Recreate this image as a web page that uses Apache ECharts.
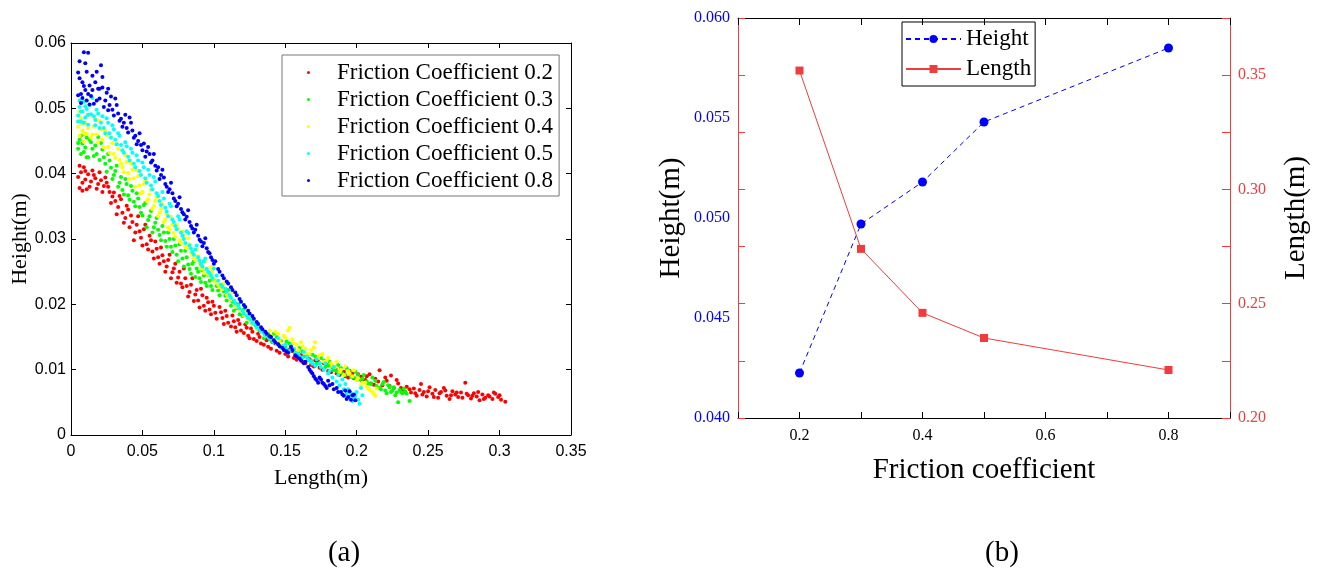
<!DOCTYPE html>
<html>
<head>
<meta charset="utf-8">
<script src="https://cdn.jsdelivr.net/npm/echarts@6/dist/echarts.min.js"></script>
<style>html,body{margin:0;padding:0;background:#fff}#c{width:1317px;height:580px}</style>
</head>
<body>
<div id="c"></div>
<script>
// ---------- Data: panel (a) scatter, [length (m), height (m)] ----------
const seriesNames = ['Friction Coefficient 0.2','Friction Coefficient 0.3','Friction Coefficient 0.4','Friction Coefficient 0.5','Friction Coefficient 0.8'];

const fc02 = [[0.005,0.0395],[0.006,0.0378],[0.007,0.0402],[0.008,0.0386],[0.009,0.0410],[0.010,0.0391],[0.011,0.0376],[0.012,0.0399],[0.014,0.0388],[0.015,0.0405],[0.017,0.0393],[0.019,0.0384],[0.021,0.0390],[0.023,0.0381],[0.025,0.0386],[0.027,0.0372],[0.029,0.0365],[0.031,0.0358],[0.033,0.0349],[0.035,0.0361],[0.036,0.0340],[0.038,0.0332],[0.040,0.0345],[0.041,0.0318],[0.043,0.0326],[0.045,0.0310],[0.047,0.0335],[0.049,0.0302],[0.051,0.0315],[0.053,0.0292],[0.055,0.0305],[0.057,0.0281],[0.059,0.0296],[0.061,0.0272],[0.063,0.0287],[0.065,0.0266],[0.067,0.0258],[0.069,0.0276],[0.071,0.0249],[0.073,0.0262],[0.075,0.0241],[0.077,0.0232],[0.079,0.0255],[0.081,0.0228],[0.083,0.0219],[0.085,0.0240],[0.087,0.0215],[0.089,0.0206],[0.091,0.0224],[0.093,0.0198],[0.095,0.0210],[0.097,0.0192],[0.099,0.0204],[0.101,0.0187],[0.104,0.0196],[0.106,0.0179],[0.108,0.0190],[0.110,0.0172],[0.113,0.0183],[0.115,0.0165],[0.117,0.0176],[0.119,0.0160],[0.122,0.0169],[0.124,0.0152],[0.126,0.0163],[0.128,0.0147],[0.131,0.0155],[0.133,0.0140],[0.136,0.0149],[0.138,0.0135],[0.141,0.0143],[0.144,0.0129],[0.147,0.0137],[0.150,0.0124],[0.153,0.0131],[0.156,0.0118],[0.159,0.0125],[0.162,0.0112],[0.165,0.0120],[0.168,0.0107],[0.171,0.0114],[0.174,0.0103],[0.177,0.0110],[0.180,0.0098],[0.183,0.0106],[0.186,0.0094],[0.189,0.0101],[0.192,0.0090],[0.195,0.0098],[0.198,0.0087],[0.201,0.0093],[0.204,0.0082],[0.207,0.0090],[0.210,0.0079],[0.213,0.0086],[0.216,0.0099],[0.218,0.0076],[0.221,0.0083],[0.224,0.0091],[0.226,0.0072],[0.229,0.0079],[0.232,0.0068],[0.235,0.0074],[0.238,0.0065],[0.240,0.0071],[0.242,0.0060],[0.245,0.0078],[0.247,0.0066],[0.249,0.0059],[0.251,0.0073],[0.253,0.0063],[0.255,0.0069],[0.257,0.0057],[0.259,0.0066],[0.261,0.0072],[0.263,0.0060],[0.265,0.0055],[0.267,0.0067],[0.269,0.0062],[0.271,0.0058],[0.273,0.0065],[0.276,0.0080],[0.278,0.0061],[0.280,0.0056],[0.282,0.0064],[0.284,0.0059],[0.286,0.0053],[0.288,0.0062],[0.290,0.0057],[0.292,0.0061],[0.295,0.0055],[0.297,0.0063],[0.299,0.0058],[0.301,0.0054],[0.304,0.0051]];
const fc02b = [[0.006,0.0412],[0.008,0.0374],[0.010,0.0404],[0.013,0.0380],[0.016,0.0398],[0.018,0.0377],[0.020,0.0402],[0.022,0.0372],[0.024,0.0394],[0.026,0.0380],[0.028,0.0355],[0.030,0.0371],[0.032,0.0338],[0.034,0.0366],[0.037,0.0325],[0.039,0.0351],[0.042,0.0336],[0.044,0.0298],[0.046,0.0322],[0.048,0.0312],[0.050,0.0290],[0.052,0.0322],[0.054,0.0284],[0.056,0.0298],[0.058,0.0270],[0.060,0.0285],[0.062,0.0262],[0.064,0.0275],[0.066,0.0250],[0.068,0.0268],[0.070,0.0240],[0.072,0.0255],[0.074,0.0233],[0.076,0.0250],[0.078,0.0226],[0.080,0.0240],[0.082,0.0212],[0.084,0.0230],[0.086,0.0205],[0.088,0.0222],[0.090,0.0195],[0.092,0.0214],[0.094,0.0190],[0.096,0.0203],[0.098,0.0185],[0.100,0.0198],[0.102,0.0178],[0.105,0.0188],[0.107,0.0170],[0.109,0.0182],[0.112,0.0166],[0.114,0.0174],[0.116,0.0158],[0.118,0.0170],[0.121,0.0156],[0.123,0.0164],[0.125,0.0148],[0.127,0.0158],[0.130,0.0144],[0.132,0.0150],[0.135,0.0138],[0.137,0.0145],[0.140,0.0132],[0.143,0.0140],[0.146,0.0126],[0.149,0.0134],[0.152,0.0120],[0.155,0.0128],[0.158,0.0115],[0.161,0.0122],[0.164,0.0110],[0.167,0.0116],[0.170,0.0105],[0.173,0.0112],[0.176,0.0100],[0.179,0.0107],[0.182,0.0096],[0.185,0.0102],[0.188,0.0092],[0.191,0.0097],[0.194,0.0088],[0.197,0.0094],[0.200,0.0085],[0.203,0.0089],[0.206,0.0084],[0.209,0.0093],[0.212,0.0077],[0.215,0.0082],[0.220,0.0088],[0.223,0.0075],[0.228,0.0084],[0.231,0.0072],[0.234,0.0066],[0.237,0.0070],[0.241,0.0064],[0.244,0.0069],[0.246,0.0062],[0.250,0.0067],[0.254,0.0058],[0.258,0.0064],[0.262,0.0068],[0.266,0.0061],[0.270,0.0065],[0.274,0.0057],[0.277,0.0063],[0.281,0.0060],[0.285,0.0066],[0.289,0.0055],[0.293,0.0059],[0.296,0.0065],[0.300,0.0061]];

const fc03 = [[0.005,0.0438],[0.006,0.0452],[0.007,0.0430],[0.008,0.0446],[0.009,0.0461],[0.010,0.0440],[0.011,0.0455],[0.012,0.0425],[0.014,0.0448],[0.016,0.0427],[0.017,0.0443],[0.019,0.0456],[0.020,0.0421],[0.022,0.0437],[0.024,0.0415],[0.026,0.0430],[0.028,0.0409],[0.030,0.0398],[0.032,0.0412],[0.034,0.0386],[0.036,0.0375],[0.038,0.0392],[0.040,0.0367],[0.042,0.0381],[0.044,0.0357],[0.046,0.0370],[0.048,0.0349],[0.050,0.0336],[0.052,0.0355],[0.054,0.0329],[0.056,0.0343],[0.058,0.0318],[0.060,0.0332],[0.062,0.0306],[0.064,0.0320],[0.066,0.0297],[0.068,0.0310],[0.070,0.0288],[0.072,0.0300],[0.074,0.0276],[0.076,0.0292],[0.078,0.0270],[0.080,0.0282],[0.082,0.0261],[0.084,0.0247],[0.086,0.0266],[0.088,0.0255],[0.090,0.0240],[0.092,0.0252],[0.094,0.0233],[0.096,0.0245],[0.098,0.0228],[0.100,0.0238],[0.103,0.0221],[0.105,0.0230],[0.108,0.0213],[0.110,0.0222],[0.113,0.0204],[0.116,0.0194],[0.118,0.0185],[0.121,0.0192],[0.124,0.0178],[0.127,0.0170],[0.130,0.0163],[0.133,0.0158],[0.136,0.0152],[0.139,0.0147],[0.142,0.0155],[0.145,0.0140],[0.148,0.0136],[0.151,0.0143],[0.154,0.0130],[0.157,0.0125],[0.160,0.0133],[0.163,0.0120],[0.166,0.0115],[0.169,0.0123],[0.172,0.0109],[0.175,0.0118],[0.178,0.0104],[0.181,0.0112],[0.184,0.0099],[0.187,0.0107],[0.190,0.0094],[0.193,0.0102],[0.196,0.0089],[0.199,0.0097],[0.202,0.0085],[0.205,0.0092],[0.208,0.0079],[0.211,0.0088],[0.214,0.0075],[0.217,0.0070],[0.219,0.0081],[0.221,0.0064],[0.223,0.0073],[0.225,0.0068],[0.227,0.0061],[0.229,0.0050],[0.231,0.0066],[0.233,0.0071],[0.235,0.0063],[0.237,0.0052]];
const fc03b = [[0.005,0.0447],[0.007,0.0458],[0.009,0.0433],[0.011,0.0425],[0.013,0.0452],[0.015,0.0438],[0.018,0.0430],[0.021,0.0447],[0.023,0.0425],[0.025,0.0403],[0.027,0.0420],[0.029,0.0392],[0.031,0.0404],[0.033,0.0380],[0.035,0.0395],[0.037,0.0368],[0.039,0.0384],[0.041,0.0360],[0.043,0.0374],[0.045,0.0350],[0.047,0.0362],[0.049,0.0340],[0.051,0.0352],[0.053,0.0318],[0.055,0.0335],[0.057,0.0310],[0.059,0.0325],[0.061,0.0314],[0.063,0.0298],[0.065,0.0310],[0.067,0.0288],[0.069,0.0300],[0.071,0.0280],[0.073,0.0290],[0.075,0.0266],[0.077,0.0282],[0.079,0.0258],[0.081,0.0272],[0.083,0.0254],[0.085,0.0262],[0.087,0.0242],[0.089,0.0250],[0.091,0.0234],[0.093,0.0244],[0.095,0.0228],[0.097,0.0236],[0.099,0.0222],[0.102,0.0228],[0.104,0.0214],[0.107,0.0220],[0.109,0.0206],[0.112,0.0198],[0.114,0.0190],[0.117,0.0200],[0.120,0.0182],[0.123,0.0172],[0.126,0.0180],[0.129,0.0168],[0.132,0.0160],[0.135,0.0148],[0.138,0.0155],[0.141,0.0142],[0.144,0.0150],[0.147,0.0144],[0.150,0.0135],[0.153,0.0140],[0.156,0.0131],[0.159,0.0126],[0.162,0.0128],[0.165,0.0122],[0.168,0.0114],[0.171,0.0120],[0.174,0.0110],[0.177,0.0114],[0.180,0.0106],[0.183,0.0103],[0.186,0.0098],[0.189,0.0102],[0.192,0.0092],[0.195,0.0097],[0.198,0.0088],[0.201,0.0092],[0.204,0.0086],[0.207,0.0082],[0.210,0.0078],[0.213,0.0083],[0.216,0.0072],[0.218,0.0078],[0.220,0.0068],[0.222,0.0076],[0.224,0.0066],[0.226,0.0073],[0.228,0.0065],[0.230,0.0069],[0.232,0.0064],[0.234,0.0067]];

const fc04 = [[0.005,0.0472],[0.006,0.0458],[0.007,0.0485],[0.008,0.0466],[0.009,0.0449],[0.010,0.0478],[0.011,0.0461],[0.013,0.0490],[0.014,0.0455],[0.016,0.0472],[0.018,0.0460],[0.020,0.0481],[0.022,0.0452],[0.024,0.0466],[0.026,0.0441],[0.028,0.0456],[0.030,0.0430],[0.032,0.0445],[0.034,0.0421],[0.036,0.0410],[0.038,0.0428],[0.040,0.0401],[0.042,0.0416],[0.044,0.0393],[0.046,0.0405],[0.048,0.0382],[0.050,0.0372],[0.052,0.0390],[0.054,0.0361],[0.056,0.0375],[0.058,0.0350],[0.060,0.0364],[0.062,0.0340],[0.064,0.0353],[0.066,0.0330],[0.068,0.0318],[0.070,0.0334],[0.072,0.0309],[0.074,0.0322],[0.076,0.0298],[0.078,0.0311],[0.080,0.0288],[0.082,0.0301],[0.084,0.0279],[0.086,0.0270],[0.088,0.0284],[0.090,0.0262],[0.092,0.0254],[0.094,0.0266],[0.096,0.0246],[0.098,0.0257],[0.100,0.0239],[0.103,0.0230],[0.106,0.0223],[0.109,0.0215],[0.112,0.0207],[0.115,0.0199],[0.118,0.0192],[0.121,0.0183],[0.124,0.0177],[0.127,0.0170],[0.130,0.0163],[0.133,0.0158],[0.136,0.0152],[0.139,0.0160],[0.142,0.0146],[0.145,0.0155],[0.147,0.0140],[0.150,0.0149],[0.153,0.0164],[0.156,0.0140],[0.159,0.0130],[0.162,0.0136],[0.165,0.0124],[0.168,0.0130],[0.171,0.0142],[0.174,0.0122],[0.177,0.0112],[0.180,0.0118],[0.183,0.0106],[0.186,0.0112],[0.189,0.0100],[0.192,0.0105],[0.195,0.0094],[0.198,0.0099],[0.201,0.0087],[0.204,0.0080],[0.207,0.0074],[0.209,0.0069],[0.212,0.0063],[0.214,0.0071]];
const fc04b = [[0.005,0.0480],[0.006,0.0495],[0.008,0.0476],[0.009,0.0462],[0.011,0.0488],[0.012,0.0470],[0.015,0.0460],[0.017,0.0485],[0.019,0.0448],[0.021,0.0468],[0.023,0.0440],[0.025,0.0459],[0.027,0.0432],[0.029,0.0447],[0.031,0.0424],[0.033,0.0438],[0.035,0.0415],[0.037,0.0402],[0.039,0.0418],[0.041,0.0392],[0.043,0.0406],[0.045,0.0380],[0.047,0.0396],[0.049,0.0370],[0.051,0.0384],[0.053,0.0358],[0.055,0.0368],[0.057,0.0346],[0.059,0.0358],[0.061,0.0335],[0.063,0.0346],[0.065,0.0326],[0.067,0.0338],[0.069,0.0314],[0.071,0.0322],[0.073,0.0304],[0.075,0.0316],[0.077,0.0294],[0.079,0.0305],[0.081,0.0286],[0.083,0.0292],[0.085,0.0276],[0.087,0.0268],[0.089,0.0274],[0.091,0.0258],[0.093,0.0248],[0.095,0.0255],[0.097,0.0242],[0.099,0.0250],[0.101,0.0234],[0.104,0.0226],[0.107,0.0232],[0.110,0.0212],[0.113,0.0218],[0.116,0.0196],[0.119,0.0204],[0.122,0.0188],[0.125,0.0182],[0.128,0.0175],[0.131,0.0168],[0.134,0.0162],[0.137,0.0156],[0.140,0.0152],[0.143,0.0158],[0.146,0.0145],[0.149,0.0152],[0.152,0.0160],[0.155,0.0146],[0.158,0.0138],[0.161,0.0142],[0.164,0.0132],[0.167,0.0124],[0.170,0.0134],[0.173,0.0118],[0.176,0.0124],[0.179,0.0114],[0.182,0.0110],[0.185,0.0104],[0.188,0.0096],[0.191,0.0092],[0.194,0.0098],[0.197,0.0090],[0.200,0.0084],[0.203,0.0076],[0.206,0.0080],[0.208,0.0071],[0.211,0.0066],[0.213,0.0060]];

const fc05 = [[0.005,0.0489],[0.006,0.0502],[0.007,0.0480],[0.008,0.0495],[0.009,0.0510],[0.010,0.0486],[0.011,0.0499],[0.012,0.0475],[0.014,0.0491],[0.015,0.0516],[0.017,0.0482],[0.018,0.0498],[0.020,0.0470],[0.022,0.0488],[0.024,0.0462],[0.026,0.0478],[0.028,0.0455],[0.030,0.0468],[0.032,0.0445],[0.034,0.0458],[0.036,0.0436],[0.038,0.0448],[0.040,0.0426],[0.042,0.0438],[0.044,0.0415],[0.046,0.0428],[0.048,0.0404],[0.050,0.0417],[0.052,0.0393],[0.054,0.0406],[0.056,0.0382],[0.058,0.0395],[0.060,0.0370],[0.062,0.0358],[0.064,0.0372],[0.066,0.0348],[0.068,0.0335],[0.070,0.0350],[0.072,0.0326],[0.074,0.0315],[0.076,0.0330],[0.078,0.0305],[0.080,0.0294],[0.082,0.0309],[0.084,0.0285],[0.086,0.0276],[0.088,0.0290],[0.090,0.0267],[0.092,0.0258],[0.094,0.0270],[0.096,0.0250],[0.098,0.0244],[0.100,0.0255],[0.103,0.0236],[0.106,0.0227],[0.109,0.0219],[0.112,0.0210],[0.115,0.0202],[0.118,0.0194],[0.121,0.0186],[0.124,0.0179],[0.127,0.0172],[0.130,0.0165],[0.133,0.0159],[0.136,0.0153],[0.139,0.0148],[0.142,0.0142],[0.145,0.0148],[0.148,0.0136],[0.151,0.0131],[0.154,0.0137],[0.157,0.0125],[0.160,0.0120],[0.163,0.0127],[0.166,0.0115],[0.169,0.0109],[0.172,0.0116],[0.175,0.0104],[0.178,0.0110],[0.181,0.0098],[0.184,0.0104],[0.187,0.0092],[0.190,0.0085],[0.192,0.0078],[0.194,0.0070],[0.196,0.0064],[0.198,0.0058],[0.200,0.0066],[0.202,0.0048],[0.204,0.0061],[0.203,0.0072]];
const fc05b = [[0.005,0.0480],[0.006,0.0512],[0.007,0.0495],[0.009,0.0478],[0.010,0.0503],[0.012,0.0490],[0.013,0.0505],[0.016,0.0488],[0.017,0.0474],[0.019,0.0492],[0.021,0.0478],[0.023,0.0470],[0.025,0.0485],[0.027,0.0462],[0.029,0.0474],[0.031,0.0452],[0.033,0.0462],[0.035,0.0444],[0.037,0.0432],[0.039,0.0442],[0.041,0.0420],[0.043,0.0432],[0.045,0.0410],[0.047,0.0420],[0.049,0.0398],[0.051,0.0410],[0.053,0.0386],[0.055,0.0398],[0.057,0.0376],[0.059,0.0388],[0.061,0.0366],[0.063,0.0352],[0.065,0.0362],[0.067,0.0342],[0.069,0.0354],[0.071,0.0330],[0.073,0.0320],[0.075,0.0335],[0.077,0.0310],[0.079,0.0300],[0.081,0.0312],[0.083,0.0290],[0.085,0.0280],[0.087,0.0284],[0.089,0.0272],[0.091,0.0262],[0.093,0.0266],[0.095,0.0254],[0.097,0.0248],[0.099,0.0240],[0.102,0.0244],[0.105,0.0230],[0.108,0.0224],[0.111,0.0214],[0.114,0.0206],[0.117,0.0198],[0.120,0.0190],[0.123,0.0182],[0.126,0.0176],[0.129,0.0169],[0.132,0.0162],[0.135,0.0156],[0.138,0.0150],[0.141,0.0146],[0.144,0.0140],[0.147,0.0134],[0.150,0.0138],[0.153,0.0128],[0.156,0.0132],[0.159,0.0124],[0.162,0.0118],[0.165,0.0120],[0.168,0.0112],[0.171,0.0106],[0.174,0.0110],[0.177,0.0100],[0.180,0.0094],[0.183,0.0088],[0.186,0.0082],[0.188,0.0076],[0.191,0.0070],[0.193,0.0064],[0.195,0.0058],[0.197,0.0052],[0.199,0.0060],[0.201,0.0054]];

const fc08 = [[0.005,0.0555],[0.006,0.0572],[0.007,0.0522],[0.008,0.0540],[0.009,0.0586],[0.010,0.0528],[0.010,0.0569],[0.011,0.0512],[0.012,0.0585],[0.013,0.0535],[0.014,0.0519],[0.015,0.0550],[0.016,0.0507],[0.018,0.0556],[0.019,0.0530],[0.020,0.0515],[0.021,0.0566],[0.022,0.0532],[0.023,0.0502],[0.025,0.0524],[0.026,0.0497],[0.028,0.0518],[0.030,0.0489],[0.032,0.0505],[0.034,0.0481],[0.036,0.0472],[0.038,0.0490],[0.040,0.0463],[0.042,0.0478],[0.044,0.0455],[0.046,0.0445],[0.048,0.0462],[0.050,0.0436],[0.052,0.0426],[0.054,0.0441],[0.056,0.0417],[0.058,0.0430],[0.060,0.0405],[0.062,0.0392],[0.064,0.0406],[0.066,0.0384],[0.068,0.0372],[0.070,0.0386],[0.072,0.0362],[0.074,0.0350],[0.076,0.0364],[0.078,0.0341],[0.080,0.0330],[0.082,0.0344],[0.084,0.0320],[0.086,0.0310],[0.088,0.0322],[0.090,0.0299],[0.092,0.0289],[0.094,0.0301],[0.096,0.0280],[0.098,0.0272],[0.100,0.0262],[0.103,0.0254],[0.106,0.0244],[0.109,0.0235],[0.112,0.0226],[0.115,0.0218],[0.118,0.0208],[0.121,0.0199],[0.124,0.0190],[0.127,0.0182],[0.130,0.0173],[0.133,0.0165],[0.136,0.0158],[0.139,0.0151],[0.142,0.0145],[0.145,0.0139],[0.148,0.0133],[0.151,0.0128],[0.154,0.0135],[0.157,0.0122],[0.160,0.0117],[0.163,0.0110],[0.166,0.0104],[0.168,0.0097],[0.170,0.0090],[0.172,0.0084],[0.174,0.0088],[0.176,0.0080],[0.178,0.0075],[0.180,0.0083],[0.183,0.0078],[0.186,0.0072],[0.189,0.0066],[0.191,0.0060],[0.193,0.0055],[0.195,0.0067],[0.197,0.0061],[0.199,0.0053]];
const fc08b = [[0.005,0.0520],[0.006,0.0546],[0.007,0.0508],[0.008,0.0516],[0.009,0.0534],[0.011,0.0556],[0.012,0.0522],[0.013,0.0506],[0.015,0.0528],[0.017,0.0540],[0.018,0.0512],[0.020,0.0530],[0.022,0.0548],[0.024,0.0512],[0.026,0.0530],[0.027,0.0505],[0.029,0.0498],[0.031,0.0515],[0.033,0.0492],[0.035,0.0484],[0.037,0.0478],[0.039,0.0470],[0.041,0.0486],[0.043,0.0466],[0.045,0.0458],[0.047,0.0450],[0.049,0.0444],[0.051,0.0446],[0.053,0.0434],[0.055,0.0430],[0.057,0.0420],[0.059,0.0412],[0.061,0.0410],[0.063,0.0398],[0.065,0.0394],[0.067,0.0380],[0.069,0.0376],[0.071,0.0370],[0.073,0.0358],[0.075,0.0354],[0.077,0.0346],[0.079,0.0338],[0.081,0.0334],[0.083,0.0326],[0.085,0.0316],[0.087,0.0314],[0.089,0.0305],[0.091,0.0296],[0.093,0.0294],[0.095,0.0286],[0.097,0.0278],[0.099,0.0268],[0.101,0.0266],[0.104,0.0250],[0.107,0.0240],[0.110,0.0232],[0.113,0.0222],[0.116,0.0214],[0.119,0.0204],[0.122,0.0196],[0.125,0.0186],[0.128,0.0178],[0.131,0.0170],[0.134,0.0162],[0.137,0.0155],[0.140,0.0150],[0.143,0.0142],[0.146,0.0136],[0.149,0.0130],[0.152,0.0126],[0.155,0.0130],[0.158,0.0120],[0.161,0.0114],[0.164,0.0112],[0.167,0.0100],[0.169,0.0094],[0.171,0.0086],[0.173,0.0080],[0.175,0.0085],[0.177,0.0078],[0.179,0.0072],[0.181,0.0076],[0.184,0.0070],[0.187,0.0066],[0.190,0.0062],[0.192,0.0068],[0.194,0.0058],[0.196,0.0054],[0.198,0.0062]];

// ---------- Data: panel (b) ----------
const frictionCoef = [0.2, 0.3, 0.4, 0.5, 0.8];
const heightVals   = [0.04225, 0.0497, 0.0518, 0.0548, 0.0585];
const lengthVals   = [0.352, 0.274, 0.246, 0.235, 0.221];
const xLabelValues = [0.2, 0.4, 0.6, 0.8];

const SERIF = '"Liberation Serif","Times New Roman",serif';
const SANS = '"Liberation Sans",Arial,sans-serif';
const RED = '#f03c3c';
const BLUE = '#0000ff';

const scatterData = [fc02.concat(fc02b), fc03.concat(fc03b), fc04.concat(fc04b), fc05.concat(fc05b), fc08.concat(fc08b)];
const scatterColors = ['#ff0000','#00ff00','#ffff00','#00ffff','#0000ff'];

const chart = echarts.init(document.getElementById('c'), null, {renderer:'canvas'});

function boxAxis(extra){
  return Object.assign({
    type:'value', splitLine:{show:false},
    axisLine:{show:true, onZero:false, lineStyle:{color:'#000', width:1}},
    axisTick:{show:true, inside:true, length:5, lineStyle:{color:'#000'}},
    axisLabel:{show:false}
  }, extra);
}

const option = {
  animation:false,
  backgroundColor:'#fff',
  grid:[
    {left:71, top:43, width:500, height:392},
    {left:738, top:18, width:492, height:400}
  ],
  legend:[
    {
      data:seriesNames, orient:'vertical', left:282, top:55,
      padding:[6,6,4,25], itemGap:4, itemWidth:25, itemHeight:3, icon:'circle',
      borderColor:'#777', borderWidth:1,
      textStyle:{fontFamily:SERIF, fontSize:23, color:'#000', padding:[0,0,0,11]}
    },
    {
      data:['Height','Length'], orient:'vertical', left:902, top:22,
      padding:[4,4,4,3], itemGap:4, itemWidth:55, itemHeight:10,
      borderColor:'#000', borderWidth:1,
      textStyle:{fontFamily:SERIF, fontSize:23, color:'#000', lineHeight:26}
    }
  ],
  xAxis:[
    boxAxis({gridIndex:0, min:0, max:0.35, interval:0.05, position:'bottom',
      name:'Length(m)', nameLocation:'middle', nameGap:32,
      nameTextStyle:{fontFamily:SERIF, fontSize:22, color:'#000'},
      axisLabel:{show:true, fontFamily:SANS, fontSize:16, color:'#000', margin:9}}),
    boxAxis({gridIndex:0, min:0, max:0.35, interval:0.05, position:'top'}),
    boxAxis({gridIndex:1, min:0.1, max:0.9, interval:0.1, position:'bottom',
      axisTick:{show:true, inside:true, length:6, lineStyle:{color:'#000'}},
      name:'Friction coefficient', nameLocation:'middle', nameGap:38,
      nameTextStyle:{fontFamily:SERIF, fontSize:29, color:'#000'},
      axisLabel:{show:true, fontFamily:SERIF, fontSize:16, color:'#000', margin:10,
        formatter:v => xLabelValues.some(t => Math.abs(t - v) < 1e-9) ? v.toFixed(1) : ''}}),
    boxAxis({gridIndex:1, min:0.1, max:0.9, interval:0.1, position:'top',
      axisTick:{show:true, inside:true, length:7, lineStyle:{color:'#000'}}})
  ],
  yAxis:[
    boxAxis({gridIndex:0, min:0, max:0.06, interval:0.01, position:'left',
      name:'Height(m)', nameLocation:'middle', nameGap:40, nameRotate:90,
      nameTextStyle:{fontFamily:SERIF, fontSize:22, color:'#000'},
      axisLabel:{show:true, fontFamily:SANS, fontSize:16, color:'#000', margin:5}}),
    boxAxis({gridIndex:0, min:0, max:0.06, interval:0.01, position:'right'}),
    {type:'value', gridIndex:1, min:0.04, max:0.06, interval:0.005, position:'left',
      splitLine:{show:false}, axisLine:{show:false}, axisTick:{show:false},
      name:'Height(m)', nameLocation:'middle', nameGap:52, nameRotate:90,
      nameTextStyle:{fontFamily:SERIF, fontSize:29, color:'#000'},
      axisLabel:{show:true, fontFamily:SERIF, fontSize:16, color:BLUE, margin:8, formatter:v => v.toFixed(3)}},
    {type:'value', gridIndex:1, min:0.2, max:0.375, interval:0.05, position:'right',
      splitLine:{show:false},
      axisLine:{show:true, onZero:false, lineStyle:{color:RED, width:1}},
      axisTick:{show:true, inside:true, length:8, lineStyle:{color:RED}},
      minorTick:{show:true, splitNumber:2, length:8, lineStyle:{color:RED}},
      name:'Length(m)', nameLocation:'middle', nameGap:52, nameRotate:90,
      nameTextStyle:{fontFamily:SERIF, fontSize:29, color:'#000'},
      axisLabel:{show:true, showMaxLabel:false, fontFamily:SERIF, fontSize:16, color:RED, margin:8, formatter:v => v.toFixed(2)}},
    {type:'value', gridIndex:1, min:0.2, max:0.375, interval:0.05, position:'left',
      splitLine:{show:false},
      axisLine:{show:true, onZero:false, lineStyle:{color:RED, width:1}},
      axisTick:{show:true, inside:true, length:7, lineStyle:{color:RED}},
      minorTick:{show:true, splitNumber:2, length:7, lineStyle:{color:RED}},
      axisLabel:{show:false}}
  ],
  series:[
    ...scatterData.map((d, i) => ({
      name:seriesNames[i], type:'scatter', xAxisIndex:0, yAxisIndex:0,
      data:d, symbol:'circle', symbolSize:4,
      itemStyle:{color:scatterColors[i], opacity:1}
    })),
    {
      name:'Height', type:'line', xAxisIndex:2, yAxisIndex:2,
      data:frictionCoef.map((f, i) => [f, heightVals[i]]),
      symbol:'circle', symbolSize:9, color:BLUE,
      itemStyle:{color:BLUE},
      lineStyle:{color:BLUE, width:1, type:[5,4]}
    },
    {
      name:'Length', type:'line', xAxisIndex:2, yAxisIndex:3,
      data:frictionCoef.map((f, i) => [f, lengthVals[i]]),
      symbol:'rect', symbolSize:8, color:RED,
      itemStyle:{color:RED},
      lineStyle:{color:RED, width:1}
    }
  ],
  graphic:[
    {type:'text', x:344, y:553, style:{text:'(a)', align:'center', verticalAlign:'middle', font:'29px ' + SERIF, fill:'#000'}},
    {type:'text', x:1002, y:553, style:{text:'(b)', align:'center', verticalAlign:'middle', font:'29px ' + SERIF, fill:'#000'}}
  ]
};
chart.setOption(option);
</script>
</body>
</html>
